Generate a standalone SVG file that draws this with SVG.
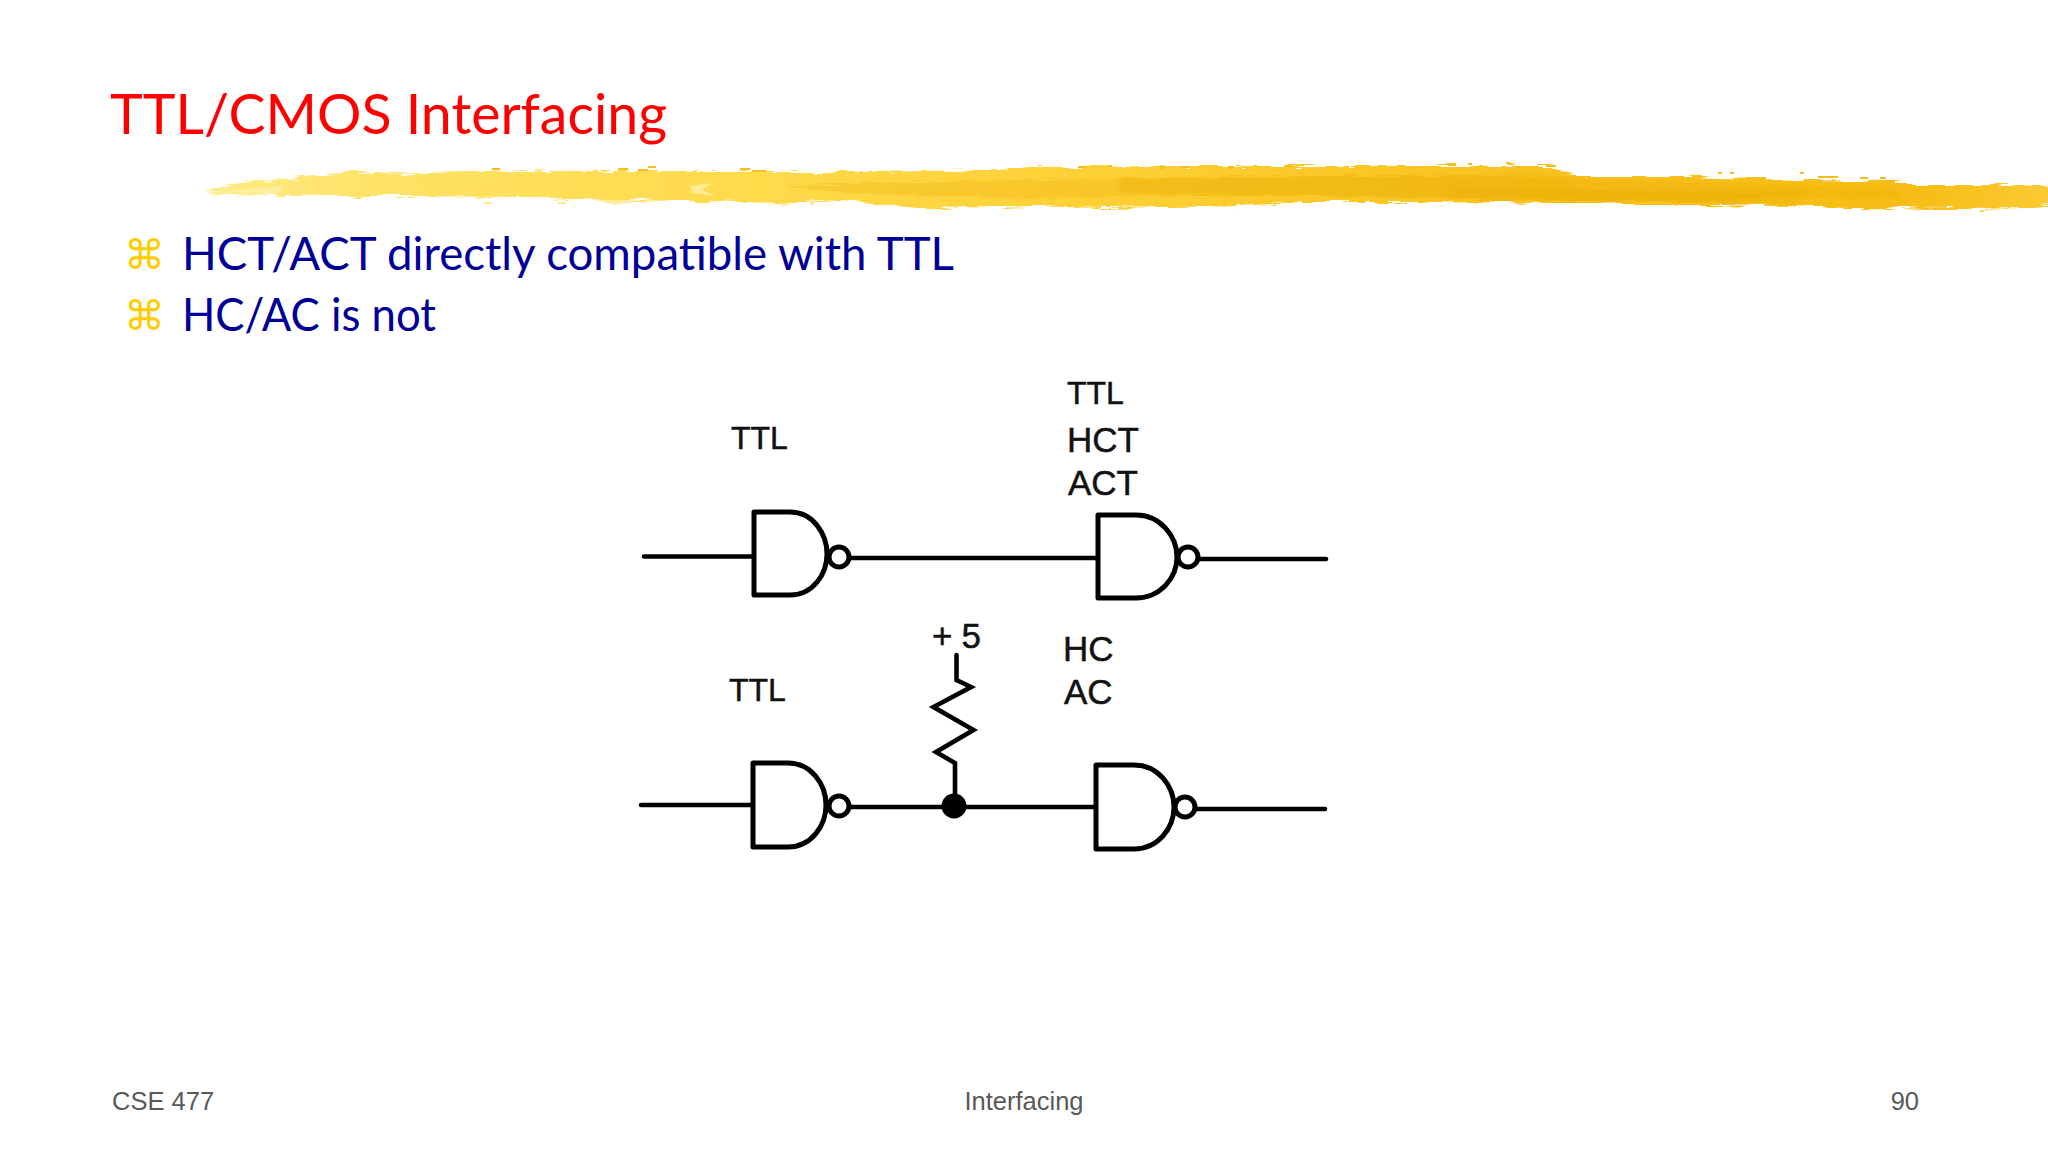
<svg xmlns="http://www.w3.org/2000/svg" width="2048" height="1152" viewBox="0 0 2048 1152">
<style>
.hand{font-family:"Lato","Noto Sans",sans-serif}
.lbl{font-family:"Liberation Sans",Arial,sans-serif;font-size:32px;fill:#111;stroke:#111;stroke-width:.5}
.lg{font-size:35px}
.foot{font-family:"Liberation Sans",Arial,sans-serif;font-size:25.5px;fill:#595959}
.bul{font-family:"DejaVu Sans",sans-serif;font-size:41px;fill:#FFCC00}
.g{fill:#fff;stroke:#000;stroke-width:5;stroke-linejoin:round}
.b{fill:#fff;stroke:#000;stroke-width:5}
.w{fill:none;stroke:#000;stroke-width:4.6;stroke-linecap:round;stroke-linejoin:miter}
.st{fill:#E8AC00;opacity:.28}
.sp{fill:#F5BE20}
</style>
<defs>
<linearGradient id="brush" gradientUnits="userSpaceOnUse" x1="204" y1="0" x2="2048" y2="0">
<stop offset="0" stop-color="#FFEB85"/><stop offset=".1" stop-color="#FFE264"/><stop offset=".3" stop-color="#FFDA4A"/><stop offset=".5" stop-color="#FDCF33"/><stop offset=".75" stop-color="#F8C01C"/><stop offset=".93" stop-color="#F7BD16"/><stop offset="1" stop-color="#FBCB33"/>
</linearGradient>
<filter id="rough" x="0" y="-30%" width="100%" height="160%" filterUnits="objectBoundingBox">
<feTurbulence type="fractalNoise" baseFrequency="0.035 0.35" numOctaves="3" seed="7" result="n"/>
<feDisplacementMap in="SourceGraphic" in2="n" scale="9" xChannelSelector="R" yChannelSelector="G"/>
</filter>
<filter id="soft" x="-5%" y="-50%" width="110%" height="200%">
<feTurbulence type="fractalNoise" baseFrequency="0.05 0.6" numOctaves="2" seed="3" result="n"/>
<feDisplacementMap in="SourceGraphic" in2="n" scale="8" xChannelSelector="R" yChannelSelector="G" result="d"/>
<feGaussianBlur in="d" stdDeviation="2 .7"/>
</filter>
</defs>
<rect width="2048" height="1152" fill="#fff"/>
<g id="brush-stroke">
<path fill="url(#brush)" filter="url(#rough)" d="M204 193L232 184L282 179L300 177L340 174L352 170L372 174L420 173L470 172L560 171L700 171L769 172L860 172L1000 170L1030 167L1200 166L1400 166L1548 166L1560 172L1575 174L1580 177L1680 177L1720 178L1800 180L1900 181L1915 185L2000 185L2060 186L2060 203L2030 208L1960 209L1850 208L1790 206L1700 205L1560 203L1400 202L1300 202L1240 206L1100 208L1030 206L1000 207L930 208L840 200L780 203L700 201L600 200L520 197L400 196L282 196L232 194Z"/>
<g filter="url(#soft)">
<path class="st" d="M780 186L860 183L1020 180L1400 176L1560 178L1900 188L1900 198L1560 199L1300 195L1020 198L860 194Z"/>
<path class="st" d="M1120 178L1560 174L1580 190L1760 194L1760 203L1500 200L1120 193Z"/>
<path class="st" d="M1450 188L1800 190L1800 204L1450 199Z"/>
</g>
<path fill="#FFEFA5" opacity=".8" d="M204 193L282 186L282 193ZM690 186L712 183L702 190L716 196L692 193Z"/>
<path fill="#FFE98E" opacity=".8" d="M590 199L640 201L615 205Z"/>
<path class="sp" d="M492 168h8v2h-8zM618 168h10v2h-10zM638 169h10v2h-10zM648 166h8v2h-8zM740 168h10v2h-10zM752 170h14v2h-14zM1078 166h8v2h-8zM1108 165h4v2h-4zM1160 166h4v3h-4zM1180 166h10v2h-10zM1228 166h6v3h-6zM1284 165h10v2h-10zM1448 163h8v3h-8zM1468 163h4v2h-4zM1506 162h4v2h-4zM1546 165h10v2h-10zM1670 176h14v2h-14zM1692 175h10v3h-10zM1718 172h4v2h-4zM1730 172h4v2h-4zM1746 177h20v2h-20zM1800 172h4v2h-4zM1818 176h20v2h-20zM1860 177h8v2h-8zM1880 177h6v2h-6z"/>
<path fill="#FFE98E" d="M484 202h8v2h-8zM558 202h8v2h-8zM810 202h4v3h-4z"/>
</g>
<text id="title" class="hand" x="110" y="134" font-size="56" fill="#FF0000" textLength="557" lengthAdjust="spacingAndGlyphs">TTL/CMOS Interfacing</text>
<g id="bullets">
<text class="bul" x="124" y="269">⌘</text>
<text class="hand" x="182" y="270" font-size="46" fill="#000099" textLength="772" lengthAdjust="spacingAndGlyphs">HCT/ACT directly compatible with TTL</text>
<text class="bul" x="124" y="330">⌘</text>
<text class="hand" x="182" y="331" font-size="46" fill="#000099" textLength="254" lengthAdjust="spacingAndGlyphs">HC/AC is not</text>
</g>
<g id="connectors">
<path class="w" d="M644 556.5H754"/>
<path class="w" d="M850 558H1098"/>
<path class="w" d="M1199 559H1326"/>
<path class="w" d="M641 805H753"/>
<path class="w" d="M850 807H1095"/>
<path class="w" d="M1195 809H1325"/>
<path class="w" d="M956.5 655V680L971 687L933.5 707L973.5 730L936 752L955 763V800"/>
</g>
<g id="gate-ttl-top">
<path class="g" d="M754 512H790C813 512 827 534 827 554C827 574 813 595 790 595H754Z"/>
<circle class="b" cx="839" cy="557" r="10"/>
<text class="lbl" x="731" y="449">TTL</text>
</g>
<g id="gate-ttl-hct-act">
<path class="g" d="M1098 515H1136C1160 515 1177 536 1177 557C1177 578 1160 598 1136 598H1098Z"/>
<circle class="b" cx="1188" cy="557" r="10"/>
<text class="lbl" x="1067" y="404">TTL</text>
<text class="lbl lg" x="1067" y="452">HCT</text>
<text class="lbl lg" x="1068" y="495">ACT</text>
</g>
<g id="gate-ttl-bottom">
<path class="g" d="M753 763H788C811 763 826 784 826 805C826 826 811 847 788 847H753Z"/>
<circle class="b" cx="839" cy="806" r="10"/>
<text class="lbl" x="729" y="701">TTL</text>
</g>
<g id="junction">
<circle cx="954" cy="806" r="12.5" fill="#000"/>
</g>
<g id="resistor-label">
<text class="lbl lg" x="932" y="648" textLength="49" lengthAdjust="spacing">+ 5</text>
</g>
<g id="gate-hc-ac">
<path class="g" d="M1096 765H1134C1158 765 1174 786 1174 807C1174 828 1158 849 1134 849H1096Z"/>
<circle class="b" cx="1185" cy="807" r="10"/>
<text class="lbl lg" x="1063" y="661">HC</text>
<text class="lbl lg" x="1064" y="704">AC</text>
</g>
<g id="footer">
<text class="foot" x="112" y="1110">CSE 477</text>
<text class="foot" x="1024" y="1110" text-anchor="middle">Interfacing</text>
<text class="foot" x="1919" y="1110" text-anchor="end">90</text>
</g>
</svg>
